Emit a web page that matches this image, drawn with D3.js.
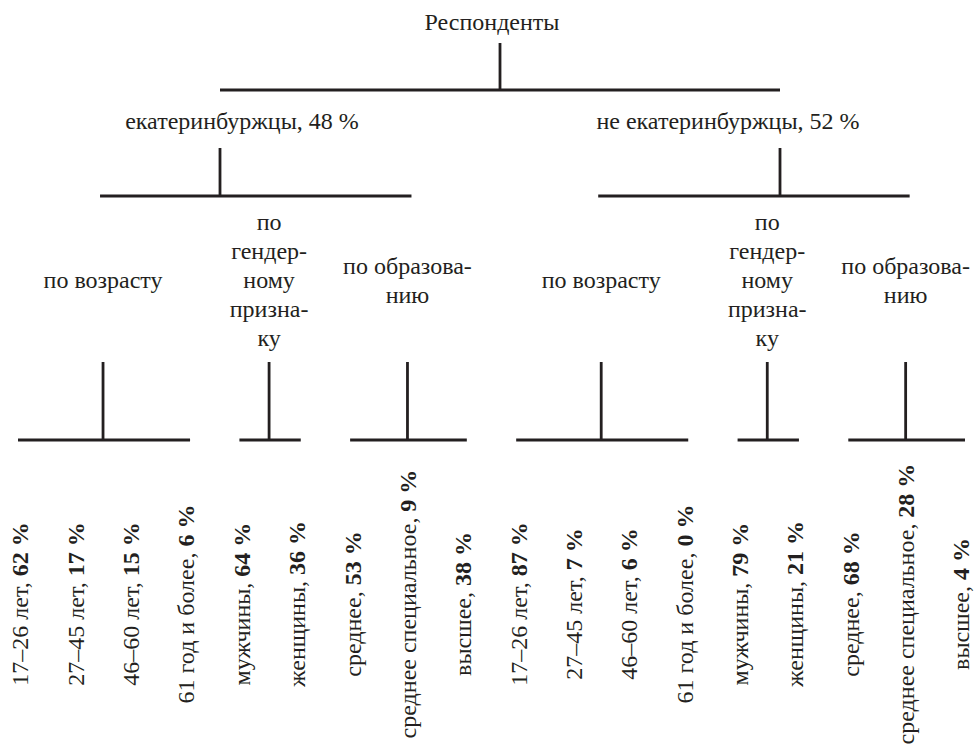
<!DOCTYPE html>
<html>
<head>
<meta charset="utf-8">
<script src="https://cdn.jsdelivr.net/npm/d3@7"></script>
<style>
  body { margin: 0; background: #fff; }
</style>
</head>
<body>
<div id="tree"></div>
<script>
// данные
var rootName = "Респонденты";
var groups = ["екатеринбуржцы", "не екатеринбуржцы"];
var groupShares = [48, 52];
var criteria = [["по возрасту"], ["по", "гендер-", "ному", "призна-", "ку"], ["по образова-", "нию"]];
var ageCats = ["17–26 лет", "27–45 лет", "46–60 лет", "61 год и более"];
var genderCats = ["мужчины", "женщины"];
var eduCats = ["среднее", "среднее специальное", "высшее"];
var ekbAge = [62, 17, 15, 6];
var ekbGender = [64, 36];
var ekbEdu = [53, 9, 38];
var nonAge = [87, 7, 6, 0];
var nonGender = [79, 21];
var nonEdu = [68, 28, 4];

var width = 975, height = 747;
var ink = "#231f20";

var svg = d3.select("#tree")
    .append("svg")
    .attr("width", width)
    .attr("height", height)
    .style("font-family", "'Liberation Serif', 'Times New Roman', Times, 'DejaVu Serif', serif")
    .style("font-size", "24px");

// строим дерево из массивов
var cats = [ageCats, genderCats, eduCats];
var values = [[ekbAge, ekbGender, ekbEdu], [nonAge, nonGender, nonEdu]];
var treeData = {
    name: rootName,
    children: groups.map(function(g, gi) {
        return {
            name: g + ", " + groupShares[gi] + " %",
            key: g,
            children: criteria.map(function(c, ci) {
                return {
                    lines: c,
                    children: cats[ci].map(function(cat, k) {
                        return { name: cat, value: values[gi][ci][k], id: gi + "-" + ci + "-" + k };
                    })
                };
            })
        };
    })
};
var root = d3.hierarchy(treeData);
var leaves = root.leaves();

var x = d3.scalePoint()
    .domain(leaves.map(function(d) { return d.data.id; }))
    .range([20, 961]);
var groupX = d3.scalePoint().domain(groups).range([220, 780]);
var groupLabelX = d3.scalePoint().domain(groups).range([242, 728]);

// уровни по вертикали
var y = {
    rootLabel: 30, rootStem: [43, 90],
    groupLabel: 129, groupStem: [148, 196],
    critLabel: 288, critLine: 29, critStem: [362, 440],
    leafLabel: 604
};

root.each(function(d) {
    if (d.depth === 3) d.x = x(d.data.id);
    else if (d.depth === 1) { d.x = groupX(d.data.key); d.lx = groupLabelX(d.data.key); }
});
root.eachAfter(function(d) {
    if (d.depth === 2) d.x = d3.mean(d.children, function(c) { return c.x; });
});
root.x = d3.mean(root.children, function(c) { return c.x; });

function line(x1, y1, x2, y2) {
    svg.append("line")
        .attr("x1", x1).attr("y1", y1)
        .attr("x2", x2).attr("y2", y2)
        .attr("stroke", ink)
        .attr("stroke-width", 2.8);
}

function label() {
    return svg.append("text").attr("fill", ink).attr("text-anchor", "middle");
}

// корень
label()
    .attr("x", root.x - 8)
    .attr("y", y.rootLabel)
    .text(rootName);
line(root.x, y.rootStem[0], root.x, y.rootStem[1]);
var ext = d3.extent(root.children, function(c) { return c.x; });
line(ext[0], y.rootStem[1], ext[1], y.rootStem[1]);

// группы
root.children.forEach(function(g) {
    label()
        .attr("x", g.lx)
        .attr("y", y.groupLabel)
        .text(g.data.name);
    line(g.x, y.groupStem[0], g.x, y.groupStem[1]);
    var e = d3.extent(g.children.map(function(c) { return c.x; }).concat([g.x]));
    line(e[0] - 3, y.groupStem[1], e[1] + 4, y.groupStem[1]);

    // критерии
    g.children.forEach(function(c) {
        var n = c.data.lines.length;
        var t = label();
        c.data.lines.forEach(function(l, i) {
            t.append("tspan")
                .attr("x", c.x)
                .attr("y", y.critLabel + (i - (n - 1) / 2) * y.critLine)
                .text(l);
        });
        line(c.x, y.critStem[0], c.x, y.critStem[1]);
        var le = d3.extent(c.children, function(l) { return l.x; });
        line(le[0] - 2, y.critStem[1], le[1] + 4, y.critStem[1]);

        // листья
        c.children.forEach(function(l) {
            var t2 = label()
                .attr("transform", "translate(" + l.x + "," + y.leafLabel + ") rotate(-90)")
                .attr("dy", "0.35em");
            t2.append("tspan").text(l.data.name + ", ");
            t2.append("tspan").attr("font-weight", "bold").text(l.data.value + " %");
        });
    });
});
</script>
</body>
</html>
